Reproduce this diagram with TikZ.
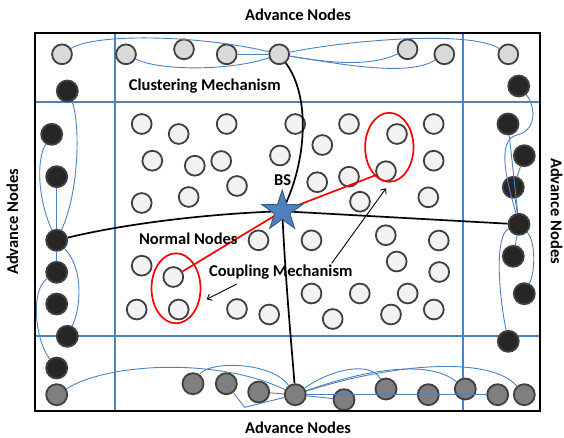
\documentclass[tikz,border=0pt]{standalone}
\usepackage{fontspec}
\setmainfont{Carlito}
\usetikzlibrary{shapes.geometric,arrows.meta}
\definecolor{linkblue}{HTML}{4F81BD}
\definecolor{starblue}{HTML}{4F81BD}
\definecolor{starborder}{HTML}{385D8A}
\definecolor{edgegray}{HTML}{404040}
\definecolor{normalfill}{HTML}{F2F2F2}
\definecolor{topfill}{HTML}{D9D9D9}
\definecolor{darkfill}{HTML}{262626}
\definecolor{botfill}{HTML}{7F7F7F}
\begin{document}
\begin{tikzpicture}[x=1pt,y=-1pt,
  nnode/.style={circle, draw=edgegray, fill=normalfill, line width=1.8pt, minimum size=19.8pt, inner sep=0pt},
  topnode/.style={nnode, fill=topfill},
  darknode/.style={nnode, fill=darkfill, minimum size=21pt},
  botnode/.style={nnode, fill=botfill, minimum size=21pt},
  gridline/.style={draw=linkblue, line width=1.8pt},
  link/.style={draw=linkblue, line width=0.9pt},
  blk/.style={draw=black, line width=1.7pt},
  redl/.style={draw=red, line width=1.7pt},
  arr/.style={draw=black, line width=0.9pt, -{Straight Barb[length=4pt,width=7pt]}},
  lbl/.style={font=\fontsize{16.5}{19}\selectfont\bfseries, inner sep=0pt}]
\useasboundingbox (0,0) rectangle (564,437);
% grid
\coordinate (gl1) at (35.3,102.3); \coordinate (gr1) at (540.3,102.3);
\coordinate (gl2) at (35.3,336); \coordinate (gr2) at (540.3,336);
\coordinate (gt1) at (115.3,33.3); \coordinate (gb1) at (115.3,410.7);
\coordinate (gt2) at (462.7,33.3); \coordinate (gb2) at (462.7,410.7);
\draw[gridline] (gl1) -- (gr1);
\draw[gridline] (gl2) -- (gr2);
\draw[gridline] (gt1) -- (gb1);
\draw[gridline] (gt2) -- (gb2);
% normal nodes
\foreach \i/\x/\y in {1/141.7/124, 2/178.7/134, 3/226.7/124, 4/295.2/124, 5/349/124, 6/397/134, 7/433.7/124,
  8/152.3/160.7, 9/194.8/165.7, 10/221.2/161, 11/322.3/145, 12/280/155.5, 13/433.7/160.7, 14/386/171.2,
  15/317.2/182.2, 16/349/176.7, 17/237/186, 18/141.7/203, 19/188.7/197, 20/360/201.7, 21/428.3/197.3,
  22/258.5/240.3, 23/311.5/240.3, 24/385.8/235.2, 25/438.8/240.5, 26/141.7/265.7, 27/173.3/277,
  28/396.7/261.5, 29/439.2/272, 30/311.5/293.5, 31/359.8/293.5, 32/407.7/293.5, 33/136.7/309.5,
  34/178.7/309.5, 35/237/309, 36/269.2/314.5, 37/332.7/319, 38/391/314.5, 39/433.8/309.5}
  \node[nnode] (n\i) at (\x,\y) {};
% top advance nodes
\foreach \i/\x/\y in {1/62/54.3, 2/126/54.3, 3/184/49.3, 4/226.7/54.3, 5/279.2/54.3, 6/407.5/49.3, 7/444.3/54.3, 8/508.3/54.3}
  \node[topnode] (A\i) at (\x,\y) {};
% left advance nodes
\foreach \i/\x/\y in {1/67.3/91, 2/51.7/134.3, 3/56.7/176.7, 4/56.7/240.3, 5/56.7/272.3, 6/56.7/304, 7/67.3/336.3, 8/56.7/368}
  \node[darknode] (L\i) at (\x,\y) {};
% right advance nodes
\foreach \i/\x/\y in {1/518.7/86, 2/508/124, 3/524.3/155.7, 4/513.3/187.3, 5/519/224.3, 6/513.3/256.3, 7/524.3/293.7, 8/508.3/341.3}
  \node[darknode] (R\i) at (\x,\y) {};
% bottom advance nodes
\foreach \i/\x/\y in {0/56.7/394.7, 1/193/383.7, 2/226.3/383.7, 3/258.7/392, 4/295.3/394.7, 5/344/399.7, 6/386/389, 7/428.3/394.7, 8/465.3/389, 9/497.7/394.7, 10/524.3/394.7}
  \node[botnode] (B\i) at (\x,\y) {};
% top links
\draw[link] (A1) .. controls (95,33) and (200,35) .. (A5);
\draw[link] (A2) .. controls (160,71) and (230,71) .. (A5);
\draw[link] (A4) -- (A5);
\draw[link] (A5) .. controls (350,40) and (470,30) .. (A8);
\draw[link] (A5) .. controls (330,63) and (370,67) .. (A6);
\draw[link] (A5) .. controls (350,66) and (410,76) .. (A7);
% left links
\draw[link] (L4) .. controls (38,200) and (36,160) .. (L2);
\draw[link] (L4) -- (L3);
\draw[link] (L4) .. controls (80,190) and (80,120) .. (L1);
\draw[link] (L4) -- (L5);
\draw[link] (L4) .. controls (85,270) and (80,310) .. (L7);
\draw[link] (L5) .. controls (30,290) and (35,340) .. (L8);
% right links
\draw[link] (R1) .. controls (535,105) and (538,130) .. (517,135) .. controls (495,140) and (508,185) .. (R5);
\draw[link] (R2) -- (R5);
\draw[link] (R3) -- (R4);
\draw[link] (R4) -- (R5);
\draw[link] (R5) -- (R6);
\draw[link] (R5) .. controls (535,240) and (536,270) .. (R7);
\draw[link] (R5) .. controls (495,235) and (498,290) .. (R8);
% bottom links
\draw[link] (B0) .. controls (110,362) and (220,358) .. (B4);
\draw[link] (B1) .. controls (210,360) and (272,362) .. (B4);
\coordinate (bk) at (244.7,407.3);
\draw[link] (B2) -- (bk) -- (B4);
\draw[link] (B3) -- (B4);
\draw[link] (B4) -- (B5);
\draw[link] (B4) -- (B7);
\draw[link] (B4) -- (B9);
\draw[link] (B4) .. controls (330,370) and (370,360) .. (B6);
\draw[link] (B4) .. controls (370,368) and (430,360) .. (B8);
\draw[link] (B4) .. controls (390,364) and (490,355) .. (B10);
% star (base station)
\node[star, star points=5, star point ratio=2.618, minimum size=42pt, inner sep=0pt] (bs) at (282.2,211.2) {};
% black links
\draw[blk] (A5) .. controls (310,95) and (308,160) .. (bs.center);
\draw[blk] (L4) .. controls (120,225) and (200,214) .. (bs.center);
\draw[blk] (bs.center) -- (R5);
\draw[blk] (bs.center) .. controls (286,290) and (292,350) .. (B4);
% coupling
\draw[redl] (n27) -- (bs.center) -- (n14);
\node[ellipse, draw=red, line width=1.7pt, minimum width=48.4pt, minimum height=69pt, inner sep=0pt] (e1) at (389.3,147.3) {};
\node[ellipse, draw=red, line width=1.7pt, minimum width=49pt, minimum height=70pt, inner sep=0pt] (e2) at (176,288.3) {};
\node[star, star points=5, star point ratio=2.618, minimum size=42pt, inner sep=0pt, fill=starblue, draw=starborder, line width=1pt] (bsdraw) at (bs.center) {};
% outer frame
\draw[black, line width=2pt] (35.3,33.3) rectangle (540.3,410.7);
% labels
\node[lbl, anchor=base] (tadv) at (298,20.7) {Advance Nodes};
\node[lbl, anchor=base] (badv) at (298,433.8) {Advance Nodes};
\node[lbl, rotate=90] (ladv) at (12.5,222) {Advance Nodes};
\node[lbl, rotate=-90] (radv) at (556.7,211) {Advance Nodes};
\node[lbl, anchor=base] (clus) at (204.8,90.7) {Clustering Mechanism};
\node[lbl, anchor=base] (norm) at (188.3,244.7) {Normal Nodes};
\node[lbl, anchor=base] (coup) at (280.8,276.3) {Coupling Mechanism};
\node[lbl, anchor=base] (bslbl) at (282.7,185.7) {BS};
% arrows
\coordinate (c1s) at (236.7,284); \coordinate (c1e) at (206.7,299.3);
\coordinate (c2s) at (331.7,263.3); \coordinate (c2e) at (386,188.3);
\draw[arr] (c1s) -- (c1e);
\draw[arr] (c2s) -- (c2e);
\end{tikzpicture}
\end{document}
